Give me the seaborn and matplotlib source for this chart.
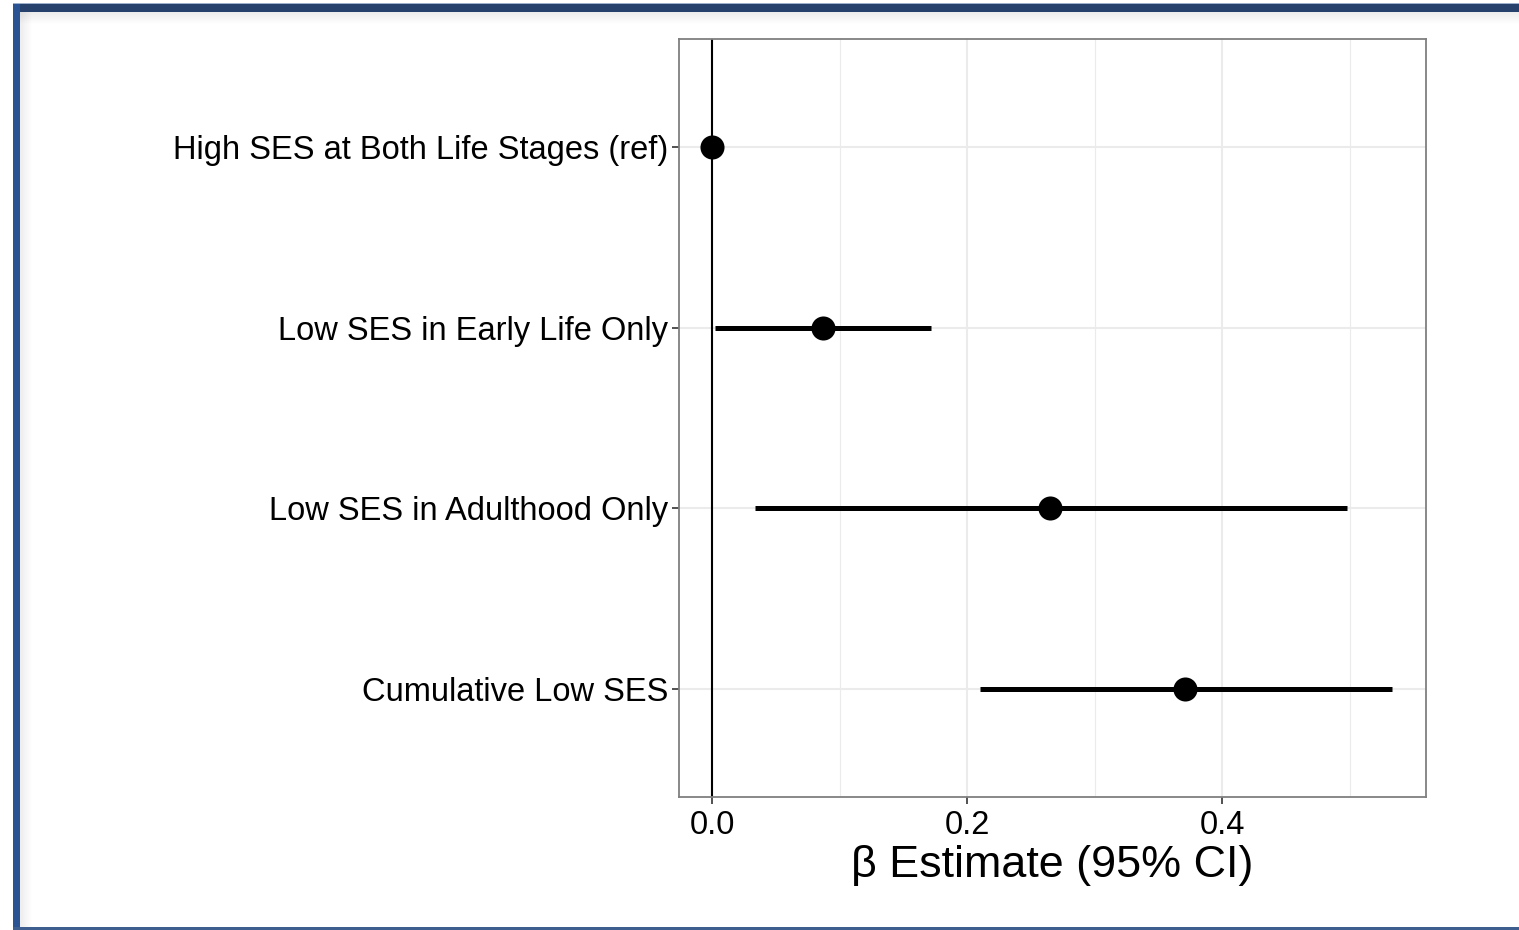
import numpy as np
import pandas as pd
import seaborn as sns
import matplotlib.pyplot as plt
from matplotlib.patches import Rectangle

groups = ['High SES at Both Life Stages (ref)', 'Low SES in Early Life Only',
          'Low SES in Adulthood Only', 'Cumulative Low SES']
estimate = [0.0, 0.087, 0.265, 0.371]
ci_low = [np.nan, 0.002, 0.034, 0.210]
ci_high = [np.nan, 0.172, 0.498, 0.533]
xticks = [0.0, 0.2, 0.4]

df = pd.DataFrame({'group': groups, 'est': estimate, 'lo': ci_low, 'hi': ci_high})
df['pos'] = np.arange(len(df))[::-1]

sns.set_theme(style='white')
plt.rcParams['font.family'] = ['Liberation Sans', 'DejaVu Sans']

fig = plt.figure(figsize=(15.19, 9.30), dpi=100)
ax = fig.add_axes([0.447, 0.143, 0.4918, 0.8151])

# grid like theme_bw
for g in [0.1, 0.3, 0.5]:
    ax.axvline(g, color='#EBEBEB', lw=0.8, zorder=0)
for g in xticks:
    ax.axvline(g, color='#EBEBEB', lw=1.5, zorder=0)
for p in df['pos']:
    ax.axhline(p, color='#EBEBEB', lw=1.5, zorder=0)

ax.axvline(0, color='black', lw=1.5, zorder=1)
ax.hlines(df['pos'], df['lo'], df['hi'], color='black', lw=3.6, zorder=2)
sns.scatterplot(data=df, x='est', y='pos', ax=ax, color='black', s=300,
                edgecolor='black', linewidth=0, zorder=3)

ax.set_xlim(-0.0259, 0.56)
ax.set_ylim(-0.6, len(df) - 0.4)
ax.set_yticks(df['pos'])
ax.set_yticklabels(df['group'])
ax.set_xticks(xticks)
ax.set_xticklabels(['0.0', '0.2', '0.4'])
ax.tick_params(axis='both', labelsize=23.5, colors='#333333', labelcolor='black',
               length=5, width=1.2, direction='out', left=True, bottom=True, pad=3)
ax.tick_params(axis='x', pad=4)
ax.set_ylabel('')
ax.set_xlabel('β Estimate (95% CI)', fontsize=32.3, color='black', labelpad=3)
for s in ax.spines.values():
    s.set_color('#7F7F7F')
    s.set_linewidth(1.3)

# slide frame around the picture
W, H = 1519, 930
def rect(x, y, w, h, c, a=1.0):
    fig.patches.append(Rectangle((x / W, 1 - (y + h) / H), w / W, h / H,
                                 transform=fig.transFigure, color=c, alpha=a,
                                 lw=0, zorder=10))
for i in range(12):
    rect(20, 12 + i, W, 1, '#000000', 0.07 * (1 - i / 12))
    rect(20 + i, 12, 1, H, '#000000', 0.07 * (1 - i / 12))
rect(13, 3, W, 1, '#9DB0CC')
rect(13, 4, W, 8, '#26416C')
rect(13, 4, 7, H, '#2A5393')
rect(13, 927, W, 3, '#3D5E8F')

fig.savefig('out.png', dpi=100)
